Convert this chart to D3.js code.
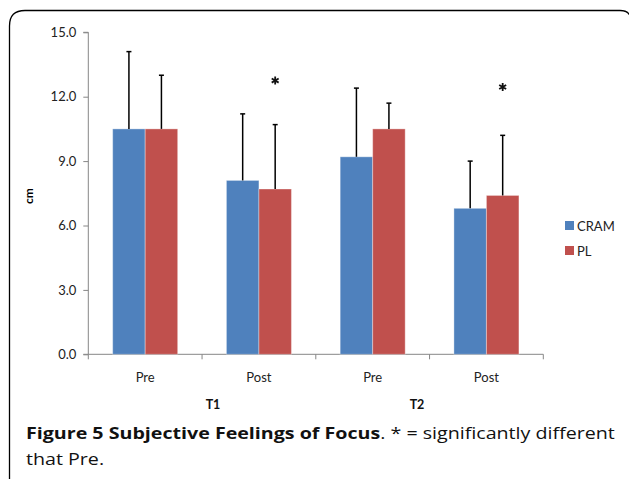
<!DOCTYPE html>
<html><head><meta charset="utf-8">
<script src="https://cdn.jsdelivr.net/npm/d3@7"></script>
<style>body{margin:0;background:#fff}svg{display:block}</style>
</head><body>
<script>
const categories = ["Pre", "Post", "Pre", "Post"];
const groups = ["T1", "T2"];
const series = ["CRAM", "PL"];
const cramValues = [10.5, 8.1, 9.2, 6.8];
const plValues = [10.5, 7.7, 10.5, 7.4];
const cramErrTop = [14.1, 11.2, 12.4, 9.0];
const plErrTop = [13.0, 10.7, 11.7, 10.2];
const starLevel = [null, 12.75, null, 12.45];
const yTicks = [0, 3, 6, 9, 12, 15];
const colors = ["#4F81BD", "#C0504D"];

const W = 629, H = 479;
const svg = d3.select("body").append("svg").attr("width", W).attr("height", H);

// frame
svg.append("path")
  .attr("d", "M9.5,490 L9.5,26 Q9.5,10.5 25,10.5 L620,10.5 Q628,10.5 630,16")
  .attr("fill", "none").attr("stroke", "#000").attr("stroke-width", 1.3);

const font = "Lato, 'Open Sans', sans-serif";
const y = d3.scaleLinear().domain([0, 15]).range([354.3, 32.3]);
const idx = d3.range(categories.length);
const x0 = d3.scaleBand().domain(idx).range([88.3, 543.3]).padding(0);
const x1 = d3.scaleBand().domain(series).range([0, x0.bandwidth()]).paddingInner(0).paddingOuter(0.75);

const vals = [cramValues, plValues];
const errs = [cramErrTop, plErrTop];

// y axis
const yAxis = d3.axisLeft(y).tickValues(yTicks).tickFormat(d3.format(".1f")).tickSize(5).tickPadding(7);
const gy = svg.append("g").attr("transform", "translate(88.3,0)").call(yAxis);
gy.select(".domain").attr("stroke", "#868686").attr("d", "M-5,32.3H0V354.3H-5");
gy.selectAll(".tick line").attr("stroke", "#868686");
gy.selectAll(".tick text").attr("font-family", font).attr("font-size", 13).attr("fill", "#222");

// x axis
const gx = svg.append("g").attr("transform", "translate(0,354.3)");
gx.append("line").attr("x1", 88.3).attr("x2", 543.3).attr("stroke", "#868686");
const bounds = idx.map(i => x0(i)).concat([x0(idx.length - 1) + x0.bandwidth()]);
gx.selectAll(".xt").data(bounds).join("line")
  .attr("x1", d => d).attr("x2", d => d).attr("y1", 0).attr("y2", 5).attr("stroke", "#868686");
gx.selectAll(".cl").data(categories).join("text")
  .attr("x", (d, i) => x0(i) + x0.bandwidth() / 2).attr("y", 28)
  .attr("text-anchor", "middle").attr("font-family", font).attr("font-size", 13).attr("fill", "#222")
  .text(d => d);
svg.selectAll(".gl").data(groups).join("text")
  .attr("x", (d, i) => i === 0 ? 213 : 417).attr("y", 409)
  .attr("text-anchor", "middle").attr("font-family", font).attr("font-size", 12.5).attr("font-weight", "bold").attr("fill", "#111")
  .text(d => d);

// y label
svg.append("text").attr("transform", "translate(33,196) rotate(-90)")
  .attr("text-anchor", "middle").attr("font-family", font).attr("font-size", 12).attr("font-weight", "bold")
  .text("cm");

// bars
series.forEach((s, si) => {
  const g = svg.append("g");
  g.selectAll("rect").data(vals[si]).join("rect")
    .attr("x", (d, i) => x0(i) + x1(s))
    .attr("y", d => y(d))
    .attr("width", x1.bandwidth())
    .attr("height", d => y(0) - y(d))
    .attr("fill", colors[si])
    .attr("stroke", "rgba(255,255,255,0.35)").attr("stroke-width", 1);
  const eg = svg.append("g").attr("stroke", "#000").attr("stroke-width", 1.5);
  eg.selectAll("line.v").data(errs[si]).join("line")
    .attr("x1", (d, i) => x0(i) + x1(s) + x1.bandwidth() / 2)
    .attr("x2", (d, i) => x0(i) + x1(s) + x1.bandwidth() / 2)
    .attr("y1", (d, i) => y(vals[si][i]))
    .attr("y2", d => y(d));
  eg.selectAll("line.c").data(errs[si]).join("line")
    .attr("x1", (d, i) => x0(i) + x1(s) + x1.bandwidth() / 2 - 2.5)
    .attr("x2", (d, i) => x0(i) + x1(s) + x1.bandwidth() / 2 + 2.5)
    .attr("y1", d => y(d)).attr("y2", d => y(d));
});

// significance stars
const star = d3.symbol(d3.symbolAsterisk, 45);
svg.selectAll(".star").data(idx.filter(i => starLevel[i] != null)).join("path")
  .attr("d", star)
  .attr("transform", i => `translate(${x0(i) + x1("PL") + x1.bandwidth() / 2},${y(starLevel[i])})`)
  .attr("fill", "none").attr("stroke", "#111").attr("stroke-width", 1.8);

// legend
const lg = svg.append("g");
series.forEach((s, si) => {
  lg.append("rect").attr("x", 565).attr("y", 221 + si * 25).attr("width", 9).attr("height", 9).attr("fill", colors[si]);
  lg.append("text").attr("x", 577).attr("y", 230.5 + si * 25).attr("font-family", font).attr("font-size", 13).attr("fill", "#222").text(s);
});

// caption
const cx = 26;
const cap = svg.append("text").attr("x", cx).attr("y", 439).attr("font-family", "'Open Sans', sans-serif").attr("font-size", 16).attr("fill", "#111");
cap.append("tspan").attr("font-weight", "bold").text("Figure 5 Subjective Feelings of Focus");
cap.append("tspan").text(". * = significantly different");
const len = cap.node().getComputedTextLength();
const sx = (615 - cx) / len;
cap.attr("transform", `translate(${cx},0) scale(${sx},1) translate(${-cx},0)`);
const cap2 = svg.append("text").attr("x", cx).attr("y", 465).attr("font-family", "'Open Sans', sans-serif").attr("font-size", 16).attr("fill", "#111")
  .text("that Pre.");
cap2.attr("transform", `translate(${cx},0) scale(${sx},1) translate(${-cx},0)`);
</script>
</body></html>
